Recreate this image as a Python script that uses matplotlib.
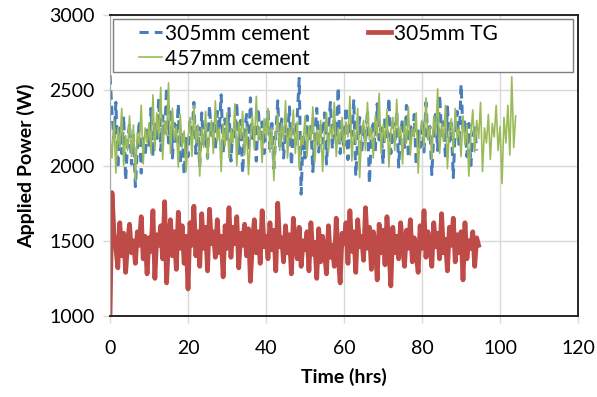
import numpy as np
import matplotlib.pyplot as plt
from matplotlib.patches import Rectangle

# Données (pas de 0.5 h)
time_step = 0.5

tg_305 = [
    1000, 1820, 1560, 1450, 1320, 1620, 1400, 1550, 1290, 1480, 1610, 1420, 1500, 1350, 1560, 1470, 1660, 1380, 1530, 1280,
    1520, 1430, 1700, 1250, 1540, 1470, 1600, 1380, 1760, 1220, 1510, 1640, 1400, 1560, 1310, 1690, 1450, 1600, 1350, 1530,
    1180, 1620, 1470, 1730, 1400, 1560, 1330, 1680, 1450, 1590, 1300, 1710, 1480, 1560, 1390, 1640, 1420, 1530, 1260, 1600,
    1450, 1720, 1390, 1590, 1480, 1660, 1320, 1550, 1470, 1610, 1400, 1580, 1230, 1490, 1640, 1420, 1560, 1350, 1700, 1460,
    1530, 1380, 1620, 1440, 1570, 1300, 1750, 1460, 1520, 1360, 1600, 1420, 1540, 1280, 1650, 1470, 1380, 1590, 1330, 1500,
    1440, 1560, 1300, 1620, 1410, 1490, 1250, 1580, 1360, 1530, 1420, 1280, 1600, 1390, 1470, 1330, 1650, 1400, 1220, 1550,
    1480, 1620, 1350, 1700, 1430, 1560, 1290, 1640, 1460, 1530, 1370, 1720, 1450, 1590, 1310, 1560, 1480, 1240, 1610, 1420,
    1570, 1340, 1660, 1450, 1200, 1590, 1420, 1530, 1380, 1620, 1470, 1330, 1570, 1450, 1640, 1360, 1520, 1410, 1290, 1600,
    1450, 1700, 1390, 1560, 1480, 1330, 1620, 1460, 1550, 1380, 1680, 1420, 1510, 1300, 1590, 1470, 1650, 1360, 1540, 1420,
    1560, 1240, 1620, 1380, 1500, 1450, 1560, 1330, 1520, 1470,
]

cement_305 = [
    2600, 2350, 2180, 2420, 1980, 2250, 2080, 2330, 1900, 2150, 2280, 2010, 2200, 1860, 2120, 2300, 1950, 2180, 2060, 2250,
    2120, 2380, 2060, 2290, 2180, 2450, 2100, 2330, 2200, 2520, 2150, 2380, 2050, 2280, 2160, 2410, 2010, 2220, 1940, 2180,
    2060, 2300, 2180, 2420, 2080, 2260, 1990, 2350, 2140, 2230, 2050, 2400, 2180, 2290, 2100, 2360, 2230, 2470, 2080, 2310,
    2150, 2380, 2030, 2260, 2190, 2420, 2080, 2300, 1950, 2220, 2340, 2100, 2450, 2180, 2270, 2030, 2380, 2160, 2290, 2080,
    2240, 2360, 2110, 2280, 1980, 2200, 2430, 2120, 2310, 2050, 2260, 2180, 2390, 2000, 2240, 2140, 2320, 2580, 1810, 2200,
    2050, 2330, 2160, 2270, 1960, 2210, 2380, 2090, 2280, 2150, 2350, 2010, 2240, 2420, 2110, 2300, 2190, 2520, 2080, 2260,
    2130, 2390, 2040, 2270, 2200, 2440, 1930, 2180, 2320, 2080, 2260, 2150, 2370, 1880, 2210, 2300, 2090, 2410, 2170, 2250,
    2010, 2330, 2190, 2450, 2080, 2280, 2140, 2360, 1990, 2220, 2310, 2120, 2400, 2050, 2270, 2180, 2340, 2000, 2230, 2120,
    2300, 2090, 2420, 2180, 2260, 1940, 2210, 2350, 2100, 2470, 2200, 2290, 2050, 2390, 2160, 2280, 1920, 2240, 2360, 2130,
    2540, 2220, 2310, 2060, 2280, 2000, 2190, 2250, 2100,
]

cement_457 = [
    2200, 2050, 2300, 1950, 2250, 2120, 2380, 2000, 2200, 2100, 2330, 2060, 2270, 1900, 2220, 2140, 2400, 2010, 2250, 2150,
    2280, 2080, 2470, 2100, 2350, 2190, 2520, 2040, 2300, 2200, 2550, 2080, 2380, 2170, 2260, 1990, 2340, 2120, 2230, 1960,
    2180, 2320, 2060, 2400, 2150, 2270, 1930, 2250, 2120, 2360, 2040, 2210, 2300, 2080, 2430, 2160, 2250, 1960, 2280, 2130,
    2350, 2050, 2240, 2150, 2410, 2000, 2290, 2180, 2360, 2070, 2260, 1940, 2200, 2330, 2110, 2460, 2160, 2260, 2020, 2310,
    2180, 2380, 2090, 2250, 1900, 2210, 2340, 2100, 2280, 2160, 2430, 2050, 2250, 2180, 2370, 2080, 2290, 1980, 2200, 2140,
    2330, 2060, 2260, 2170, 2390, 2020, 2240, 2130, 2300, 1960, 2220, 2350, 2090, 2270, 2180, 2420, 2060, 2250, 2150, 2320,
    2080, 2290, 2190, 2460, 2030, 2240, 2150, 2380, 1920, 2210, 2300, 2100, 2420, 2170, 2250, 2050, 2330, 2190, 2480, 2080,
    2270, 2160, 2370, 1990, 2230, 2320, 2100, 2440, 2180, 2260, 2010, 2300, 2150, 2390, 2070, 2250, 2190, 2350, 1950, 2220,
    2300, 2120, 2450, 2170, 2260, 2040, 2330, 2200, 2510, 2080, 2280, 2160, 2400, 1980, 2240, 2310, 2090, 2380, 2180, 2250,
    2060, 2330, 2140, 2270, 1930, 2210, 2370, 2090, 2300, 2180, 2420, 1960, 2250, 2150, 2340, 2040, 2280, 2190, 2400, 2100,
    2260, 1880, 2320, 2150, 2400, 2070, 2590, 2120, 2330,
]

x_ticks = [0, 20, 40, 60, 80, 100, 120]
y_ticks = [1000, 1500, 2000, 2500, 3000]

plt.rcParams['font.family'] = ['Lato', 'DejaVu Sans']

fig = plt.figure(figsize=(5.97, 3.97), dpi=100)
ax = fig.add_axes([0.1843, 0.204, 0.784, 0.758])

t_305 = np.arange(len(cement_305)) * time_step
t_tg = np.arange(len(tg_305)) * time_step
t_457 = np.arange(len(cement_457)) * time_step

l1, = ax.plot(t_305, cement_305, color='#4a7ebb', lw=2.2, ls=(0, (3, 2)), label='305mm cement')
l2, = ax.plot(t_tg, tg_305, color='#be4b48', lw=3.4, label='305mm TG')
l3, = ax.plot(t_457, cement_457, color='#9bbb59', lw=1.2, label='457mm cement')

ax.set_xlim(0, 120)
ax.set_ylim(1000, 3000)
ax.set_xticks(x_ticks)
ax.set_yticks(y_ticks)
ax.grid(True, color='#d9d9d9', lw=1)
ax.set_axisbelow(True)
ax.tick_params(labelsize=14, color='#d9d9d9', length=5, width=1, labelcolor='black')
ax.tick_params(axis='x', pad=12)
ax.tick_params(axis='y', pad=6)

for side in ['top', 'right', 'bottom']:
    ax.spines[side].set_color('#262626')
    ax.spines[side].set_linewidth(1.4)
ax.spines['left'].set_color('#a6a6a6')

ax.set_xlabel('Time (hrs)', fontsize=14, fontweight='bold', labelpad=8)
ax.set_ylabel('Applied Power (W)', fontsize=14, fontweight='bold', labelpad=10)

# cadre de la légende (pleine largeur, comme dans Excel)
ax.add_patch(Rectangle((0.0064, 0.811), 0.983, 0.176, transform=ax.transAxes,
                       facecolor='white', edgecolor='#7f7f7f', lw=1.0, zorder=5))
leg = ax.legend(handles=[l1, l3, l2], ncol=2, loc='upper left',
                bbox_to_anchor=(0.062, 0.972), fontsize=15, frameon=False,
                handlelength=1.1, handletextpad=0.15, borderpad=0,
                labelspacing=0.25, columnspacing=2.8, borderaxespad=0)
leg.set_zorder(6)

fig.savefig('out.png', dpi=100)
